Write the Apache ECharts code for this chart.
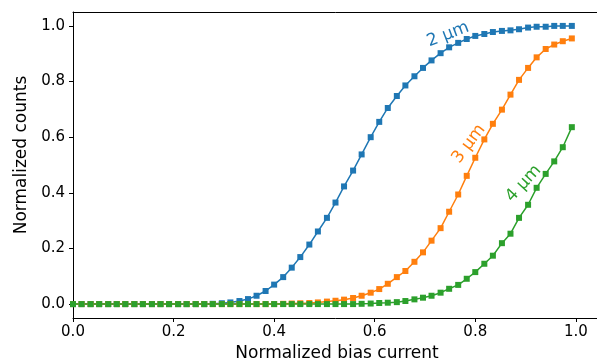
<!DOCTYPE html>
<html>
<head>
<meta charset="utf-8">
<script src="https://cdn.jsdelivr.net/npm/echarts@6/dist/echarts.min.js"></script>
<style>
  html, body { margin: 0; padding: 0; background: #fff; }
  #chart { width: 597px; height: 362px; }
</style>
</head>
<body>
<div id="chart"></div>
<script>
// normalized bias current (x) shared by all three curves
const biasCurrent = [
  0, 0.017, 0.035, 0.052, 0.070, 0.087, 0.104, 0.122, 0.139, 0.157,
  0.174, 0.191, 0.209, 0.226, 0.244, 0.261, 0.278, 0.296, 0.313, 0.331,
  0.348, 0.365, 0.383, 0.400, 0.418, 0.435, 0.452, 0.470, 0.487, 0.505,
  0.522, 0.539, 0.557, 0.574, 0.592, 0.609, 0.626, 0.644, 0.661, 0.679,
  0.696, 0.713, 0.731, 0.748, 0.766, 0.783, 0.800, 0.818, 0.835, 0.853,
  0.870, 0.887, 0.905, 0.922, 0.940, 0.957, 0.974, 0.992
]
const counts2um = [
  0, 0, 0, 0, 0, 0, 0, 0, 0, 0,
  0, 0, 0, 0, 0, 0, 0.001, 0.003, 0.006, 0.011,
  0.018, 0.030, 0.047, 0.070, 0.097, 0.131, 0.169, 0.214, 0.261, 0.310,
  0.365, 0.423, 0.480, 0.538, 0.600, 0.655, 0.705, 0.748, 0.786, 0.819,
  0.849, 0.876, 0.902, 0.923, 0.939, 0.953, 0.964, 0.971, 0.978, 0.982,
  0.984, 0.988, 0.994, 0.997, 0.997, 1.0, 1.0, 1.0
]
const counts3um = [
  0, 0, 0, 0, 0, 0, 0, 0, 0, 0,
  0, 0, 0, 0, 0, 0, 0, 0, 0, 0,
  0, 0, 0, 0, 0.001, 0.002, 0.003, 0.004, 0.006, 0.009,
  0.012, 0.016, 0.022, 0.030, 0.041, 0.054, 0.073, 0.097, 0.119, 0.152,
  0.186, 0.228, 0.273, 0.332, 0.394, 0.461, 0.526, 0.592, 0.648, 0.699,
  0.753, 0.806, 0.849, 0.887, 0.917, 0.933, 0.945, 0.955
]
const counts4um = [
  0, 0, 0, 0, 0, 0, 0, 0, 0, 0,
  0, 0, 0, 0, 0, 0, 0, 0, 0, 0,
  0, 0, 0, 0, 0, 0, 0, 0, 0, 0,
  0, 0, 0, 0.001, 0.002, 0.004, 0.005, 0.007, 0.011, 0.017,
  0.023, 0.030, 0.041, 0.055, 0.069, 0.091, 0.115, 0.145, 0.174, 0.219,
  0.253, 0.310, 0.357, 0.418, 0.468, 0.513, 0.564, 0.636
]
const xTicks = [0, 0.2, 0.4, 0.6, 0.8, 1.0]
const yTicks = [0, 0.2, 0.4, 0.6, 0.8, 1.0]

const font = '"DejaVu Sans", sans-serif'
const pairs = (ys) => biasCurrent.map((x, i) => [x, ys[i]])

const curve = (name, ys, color, labelAt, angle) => ({
  name,
  type: 'line',
  data: pairs(ys),
  symbol: 'rect',
  symbolSize: 6,
  showAllSymbol: true,
  lineStyle: { color, width: 1.5 },
  itemStyle: { color },
  markPoint: {
    symbol: 'rect',
    symbolSize: 1,
    itemStyle: { color: 'rgba(0,0,0,0)' },
    label: {
      show: true,
      position: 'inside',
      formatter: name,
      rotate: angle,
      color,
      fontFamily: font,
      fontSize: 17
    },
    data: [{ coord: labelAt }]
  }
})

const tickLabel = v => v.toFixed(1)
const spine = { show: true, onZero: false, lineStyle: { color: '#000', width: 1 } }

const chart = echarts.init(document.getElementById('chart'))
chart.setOption({
  animation: false,
  backgroundColor: '#fff',
  // plot area runs a little past the right edge, like the cropped original
  grid: { left: 73, top: 12, width: 528, height: 306, outerBoundsMode: 'none' },
  xAxis: [{
    type: 'value',
    min: 0,
    max: 1.05,
    name: 'Normalized bias current',
    nameLocation: 'middle',
    nameGap: 27,
    nameTextStyle: { fontFamily: font, fontSize: 17, color: '#000' },
    axisLine: spine,
    axisTick: { show: true, length: 4, customValues: xTicks, lineStyle: { color: '#000' } },
    axisLabel: { customValues: xTicks, formatter: tickLabel, margin: 7, fontFamily: font, fontSize: 15, color: '#000' },
    splitLine: { show: false }
  }, {
    // top spine only
    type: 'value',
    position: 'top',
    min: 0,
    max: 1.05,
    axisLine: spine,
    axisTick: { show: false },
    axisLabel: { show: false },
    splitLine: { show: false }
  }],
  yAxis: {
    type: 'value',
    min: -0.05,
    max: 1.05,
    name: 'Normalized counts',
    nameLocation: 'middle',
    nameGap: 38,
    nameTextStyle: { fontFamily: font, fontSize: 17, color: '#000', padding: [0, 0, 0, 20] },
    axisLine: spine,
    axisTick: { show: true, length: 4, customValues: yTicks, lineStyle: { color: '#000' } },
    axisLabel: { customValues: yTicks, formatter: tickLabel, margin: 8, fontFamily: font, fontSize: 15, color: '#000' },
    splitLine: { show: false }
  },
  series: [
    curve('2 μm', counts2um, '#1f77b4', [0.746, 0.969], 21),
    curve('3 μm', counts3um, '#ff7f0e', [0.787, 0.576], 53),
    curve('4 μm', counts4um, '#2ca02c', [0.896, 0.433], 47)
  ]
})
</script>
</body>
</html>
